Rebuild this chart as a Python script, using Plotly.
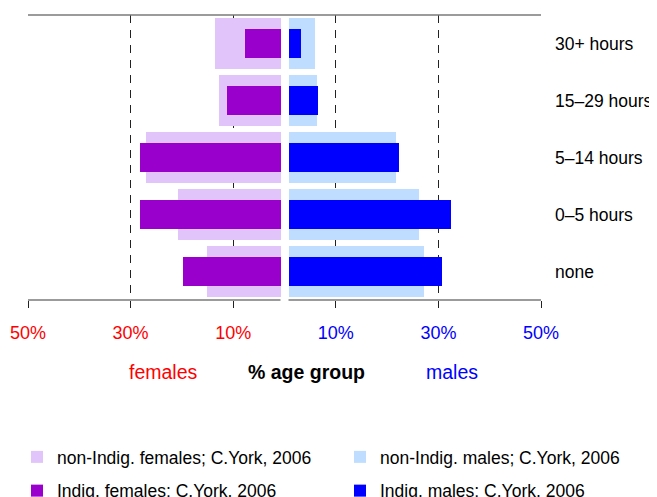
import plotly.graph_objects as go

categories = ["none", "0–5 hours", "5–14 hours", "15–29 hours", "30+ hours"]
nonindig_females = [14.4, 19.9, 26.3, 11.9, 12.7]
indig_females = [19.1, 27.3, 27.3, 10.5, 7.0]
nonindig_males = [26.5, 25.5, 20.9, 5.5, 5.2]
indig_males = [30.0, 31.6, 21.6, 5.7, 2.5]
tick_values = [-50, -30, -10, 10, 30, 50]
tick_labels = ["50%", "30%", "10%", "10%", "30%", "50%"]
tick_colors = ["#FF0000"] * 3 + ["#0000FF"] * 3
gap = 0.78

FONT = "Liberation Sans, Arial, Helvetica, sans-serif"
C_NIF = "#E0C4FA"
C_IF = "#9900CC"
C_NIM = "#BFDEFF"
C_IM = "#0000FF"

# page body has an 8px default margin; compensate
OFF = 8
W, H = 657 - OFF, 497 - OFF
PL, PT, PW, PH = 28 - OFF, 15 - OFF, 513, 285

fig = go.Figure()
fig.add_bar(y=categories, x=[-v for v in nonindig_females], base=-gap, orientation="h",
            width=0.9, marker_color=C_NIF, marker_line_width=0,
            name="non-Indig. females; C.York, 2006", legend="legend", legendgroup="a")
fig.add_bar(y=categories, x=nonindig_males, base=gap, orientation="h",
            width=0.9, marker_color=C_NIM, marker_line_width=0,
            name="non-Indig. males; C.York, 2006", legend="legend2", legendgroup="c")
fig.add_bar(y=categories, x=[-v for v in indig_females], base=-gap, orientation="h",
            width=0.5, marker_color=C_IF, marker_line_width=0,
            name="Indig. females; C.York, 2006", legend="legend", legendgroup="b")
fig.add_bar(y=categories, x=indig_males, base=gap, orientation="h",
            width=0.5, marker_color=C_IM, marker_line_width=0,
            name="Indig. males; C.York, 2006", legend="legend2", legendgroup="d")

ticktext = [f'<span style="color:{c}">{t}</span>' for t, c in zip(tick_labels, tick_colors)]

line_col = "#7a7a7a"
shapes = [
    dict(type="line", xref="x", yref="paper", x0=-50, x1=50, y0=1, y1=1,
         line=dict(color=line_col, width=1.5)),
    dict(type="line", xref="x", yref="paper", x0=-50, x1=-gap, y0=0, y1=0,
         line=dict(color=line_col, width=1.5)),
    dict(type="line", xref="x", yref="paper", x0=gap, x1=50, y0=0, y1=0,
         line=dict(color=line_col, width=1.5)),
]

ann_y = (300 - 372) / 285
annotations = [
    dict(text="females", x=-23.5, y=ann_y, xref="x", yref="paper", showarrow=False,
         xanchor="center", yanchor="middle",
         font=dict(family=FONT, size=19.5, color="#FF0000")),
    dict(text="<b>% age group</b>", x=4.3, y=ann_y, xref="x", yref="paper", showarrow=False,
         xanchor="center", yanchor="middle",
         font=dict(family=FONT, size=19.5, color="#000000")),
    dict(text="males", x=32.7, y=ann_y, xref="x", yref="paper", showarrow=False,
         xanchor="center", yanchor="middle",
         font=dict(family=FONT, size=19.5, color="#0000FF")),
]

legend_common = dict(orientation="v", yanchor="top", xanchor="left", bgcolor="rgba(0,0,0,0)",
                     borderwidth=0, font=dict(family=FONT, size=17.5, color="#000"),
                     traceorder="grouped", tracegroupgap=8, itemclick=False, itemdoubleclick=False)

leg_y = (300 - 439) / 285

fig.update_layout(
    width=W, height=H,
    margin=dict(l=PL, r=W - PL - PW, t=PT, b=H - PT - PH, autoexpand=False),
    plot_bgcolor="white", paper_bgcolor="white",
    barmode="overlay", bargap=0,
    font=dict(family=FONT, size=18, color="#000"),
    xaxis=dict(range=[-50, 50], tickvals=tick_values, ticktext=ticktext,
               showgrid=True, gridcolor="#222", gridwidth=1, griddash="8px,7px",
               zeroline=False, showline=False, ticks="outside", ticklen=7,
               tickcolor="#222", tickwidth=1, ticklabelstandoff=9,
               tickfont=dict(family=FONT, size=18)),
    yaxis=dict(categoryorder="array", categoryarray=categories, range=[-0.5, 4.5],
               side="right", showgrid=False, zeroline=False, showline=False,
               ticks="", ticklabelstandoff=13, tickfont=dict(family=FONT, size=17.5)),
    shapes=shapes, annotations=annotations,
    legend=dict(x=(17 - 28) / 513, y=leg_y, **legend_common),
    legend2=dict(x=(340 - 28) / 513, y=leg_y, **legend_common),
    showlegend=True,
)

fig.write_html("out.html")
